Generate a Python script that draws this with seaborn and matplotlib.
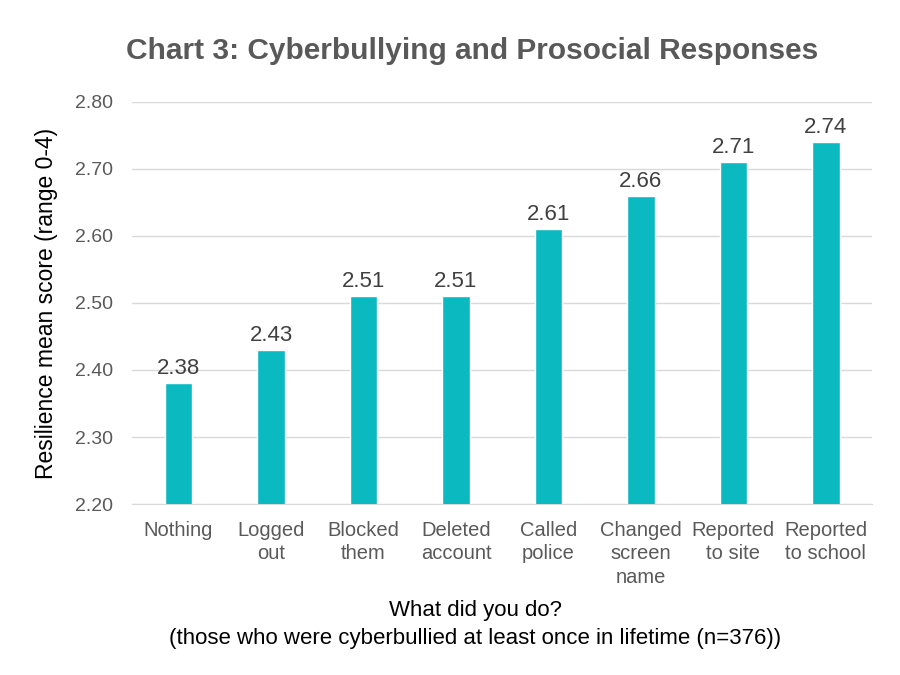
import pandas as pd
import seaborn as sns
import matplotlib.pyplot as plt

# values
responses = ['Nothing', 'Logged\nout', 'Blocked\nthem', 'Deleted\naccount', 'Called\npolice',
             'Changed\nscreen\nname', 'Reported\nto site', 'Reported\nto school']
scores = [2.38, 2.43, 2.51, 2.51, 2.61, 2.66, 2.71, 2.74]
y_ticks = [2.20, 2.30, 2.40, 2.50, 2.60, 2.70, 2.80]

df = pd.DataFrame({'response': responses, 'score': scores})

sns.set_style('white')
plt.rcParams['font.family'] = ['Liberation Sans', 'DejaVu Sans']

fig = plt.figure(figsize=(9, 6.75), dpi=100)
ax = fig.add_axes([0.147, 0.2533, 0.822, 0.5957])

sns.barplot(x='response', y='score', data=df, color='#0BB9C0', width=0.30,
            saturation=1, ax=ax, zorder=3)

for i, v in enumerate(scores):
    ax.text(i, v + 0.006, '%.2f' % v, ha='center', va='bottom',
            fontsize=16, color='#404040')

ax.set_ylim(2.20, 2.80)
ax.set_yticks(y_ticks)
ax.set_yticklabels(['%.2f' % t for t in y_ticks])
ax.yaxis.grid(True, color='#D9D9D9', linewidth=1, zorder=0)
ax.set_axisbelow(True)
for s in ['top', 'right', 'left']:
    ax.spines[s].set_visible(False)
ax.spines['bottom'].set_color('#D9D9D9')
ax.tick_params(axis='both', length=0, colors='#595959')
ax.tick_params(axis='x', pad=12, labelsize=14.5)
ax.tick_params(axis='y', pad=14, labelsize=14)
for lab in ax.get_xticklabels():
    lab.set_linespacing(1.3)

ax.set_ylabel('Resilience mean score (range 0-4)', fontsize=16.5, color='black', labelpad=12)
ax.set_xlabel('')
fig.text(0.528, 0.075,
         'What did you do?\n(those who were cyberbullied at least once in lifetime (n=376))',
         ha='center', va='center', fontsize=16, color='black', linespacing=1.45)

fig.text(0.525, 0.925, 'Chart 3: Cyberbullying and Prosocial Responses', ha='center', va='center',
         fontsize=21.5, fontweight='bold', color='#595959')

fig.savefig('out.png', dpi=100)
